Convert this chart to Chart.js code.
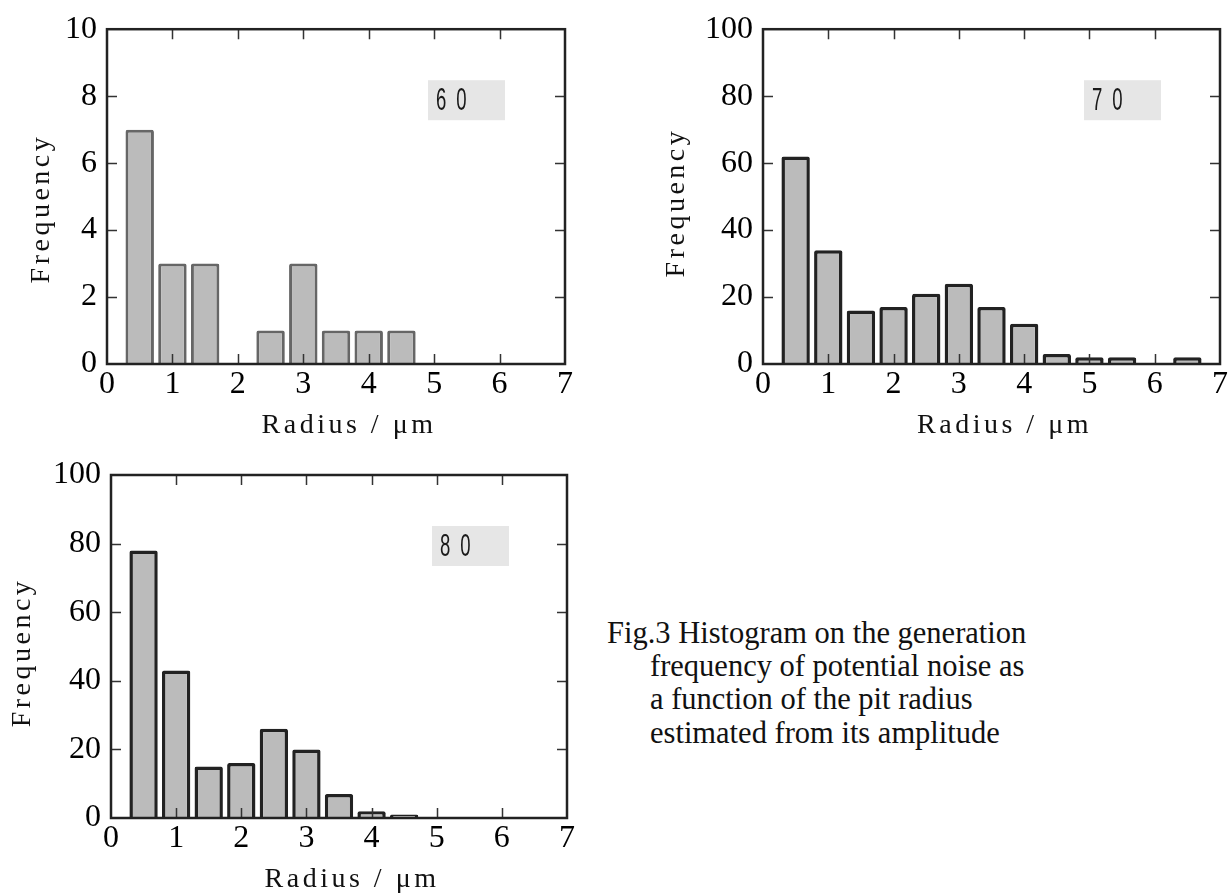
<!DOCTYPE html>
<html><head><meta charset="utf-8">
<script src="https://cdn.jsdelivr.net/npm/chart.js@4.4.1/dist/chart.umd.min.js"></script>
<style>
html,body{margin:0;padding:0;background:#fff;width:1229px;height:895px;overflow:hidden;position:relative;}
canvas{position:absolute;}
.cap{position:absolute;font-family:'Liberation Serif','Times New Roman',serif;font-size:30.5px;line-height:33px;color:#111;white-space:pre;}
</style></head><body>
<canvas id="c60" width="600" height="440" style="left:0;top:0"></canvas>
<canvas id="c70" width="589" height="440" style="left:640px;top:0"></canvas>
<canvas id="c80" width="600" height="455" style="left:0;top:440px"></canvas>
<div class="cap" id="cap0" style="left:607px;top:617px"></div>
<div class="cap" id="cap1" style="left:650px;top:650px"></div>
<div class="cap" id="cap2" style="left:650px;top:683px"></div>
<div class="cap" id="cap3" style="left:650px;top:717px"></div>
<script>
// ---- data ----
const bins60 = [0.5, 1.0, 1.5, 2.5, 3.0, 3.5, 4.0, 4.5];
const freq60 = [7, 3, 3, 1, 3, 1, 1, 1];
const bins70 = [0.5, 1.0, 1.5, 2.0, 2.5, 3.0, 3.5, 4.0, 4.5, 5.0, 5.5, 6.5];
const freq70 = [62, 34, 16, 17, 21, 24, 17, 12, 3, 2, 2, 2];
const bins80 = [0.5, 1.0, 1.5, 2.0, 2.5, 3.0, 3.5, 4.0, 4.5];
const freq80 = [78, 43, 15, 16, 26, 20, 7, 2, 1];
const panelLabels = ['60', '70', '80'];
const xRange = [0, 7];
const xStep = 1;
const yMax60 = 10, yStep60 = 2;
const yMax70 = 100, yStep70 = 20;
const yMax80 = 100, yStep80 = 20;
const xTitle = 'Radius / \u03bcm';
const yTitle = 'Frequency';
const captionLines = [
  'Fig.3 Histogram on the generation',
  'frequency of potential noise as',
  'a function of the pit radius',
  'estimated from its amplitude'
];

captionLines.forEach((t, i) => { document.getElementById('cap' + i).textContent = t; });

const SERIF = "'Liberation Serif', 'Times New Roman', serif";
const TL = 10;

const framePlugin = {
  id: 'frame',
  afterDraw(chart) {
    const o = chart.options.plugins.frame;
    const { ctx, chartArea: a } = chart;
    const x = chart.scales.x, y = chart.scales.y;
    ctx.save();
    // inner tick marks
    ctx.strokeStyle = '#333';
    ctx.lineWidth = 1.5;
    ctx.beginPath();
    x.ticks.forEach(t => {
      if (t.value <= x.min || t.value >= x.max) return;
      const px = Math.round(x.getPixelForValue(t.value)) + 0.5;
      ctx.moveTo(px, a.bottom); ctx.lineTo(px, a.bottom - TL);
      ctx.moveTo(px, a.top); ctx.lineTo(px, a.top + TL);
    });
    y.ticks.forEach(t => {
      if (t.value <= y.min || t.value >= y.max) return;
      const py = Math.round(y.getPixelForValue(t.value)) + 0.5;
      ctx.moveTo(a.left, py); ctx.lineTo(a.left + TL, py);
      ctx.moveTo(a.right, py); ctx.lineTo(a.right - TL, py);
    });
    ctx.stroke();
    // frame
    ctx.strokeStyle = '#222';
    ctx.lineWidth = 2.5;
    ctx.strokeRect(a.left, a.top, a.right - a.left, a.bottom - a.top);
    // label box
    ctx.fillStyle = '#e6e6e6';
    ctx.fillRect(a.left + 321, a.top + 51, 77, 40);
    ctx.save();
    ctx.fillStyle = '#1a1a1a';
    ctx.font = "32px 'Liberation Sans', Arial, sans-serif";
    ctx.textBaseline = 'middle';
    ctx.textAlign = 'left';
    ctx.translate(a.left + 329, a.top + 72);
    ctx.scale(0.58, 1);
    try { ctx.letterSpacing = '17px'; } catch (e) {}
    ctx.fillText(o.label, 0, 0);
    ctx.restore();
    // axis titles
    ctx.fillStyle = '#111';
    ctx.font = "28px " + SERIF;
    try { ctx.letterSpacing = '3.5px'; } catch (e) {}
    ctx.textAlign = 'center';
    ctx.textBaseline = 'alphabetic';
    ctx.fillText(xTitle, (a.left + a.right) / 2 + 13, a.bottom + 69);
    ctx.save();
    ctx.translate(a.left + o.yTitleDx, (a.top + a.bottom) / 2 + o.yTitleDy);
    ctx.rotate(-Math.PI / 2);
    ctx.textBaseline = 'middle';
    ctx.fillText(yTitle, 0, 0);
    ctx.restore();
    ctx.restore();
  }
};

function makeChart(id, bins, freq, yMax, yStep, st) {
  const tickFont = { family: SERIF, size: 32 };
  return new Chart(document.getElementById(id), {
    type: 'bar',
    data: {
      datasets: [{
        data: bins.map((b, i) => ({ x: b, y: freq[i] })),
        backgroundColor: '#bbbbbb',
        borderColor: st.border,
        borderWidth: st.bw,
        borderSkipped: 'start',
        borderRadius: 2,
        categoryPercentage: 1,
        barPercentage: 0.87
      }]
    },
    options: {
      responsive: false,
      animation: false,
      events: [],
      layout: { padding: st.pad },
      plugins: {
        legend: { display: false },
        tooltip: { enabled: false },
        frame: { label: st.label, yTitleDx: st.ydx, yTitleDy: st.ydy }
      },
      scales: {
        x: {
          type: 'linear', min: xRange[0], max: xRange[1], offset: false,
          grid: { display: false, drawTicks: false, offset: false },
          border: { display: false },
          ticks: { stepSize: xStep, padding: 1, font: tickFont, color: '#000', maxRotation: 0, autoSkip: false },
          afterFit(s) { s.height = st.xh; }
        },
        y: {
          type: 'linear', min: 0, max: yMax,
          grid: { display: false, drawTicks: false },
          border: { display: false },
          ticks: { stepSize: yStep, padding: 10, font: tickFont, color: '#000' },
          afterFit(s) { s.width = st.yw; }
        }
      }
    },
    plugins: [framePlugin]
  });
}

makeChart('c60', bins60, freq60, yMax60, yStep60, {
  border: '#666666', bw: 3, pad: { left: 0, top: 22, right: 35, bottom: 0 }, yw: 107, xh: 76,
  label: panelLabels[0], ydx: -65, ydy: 12
});
makeChart('c70', bins70, freq70, yMax70, yStep70, {
  border: '#222222', bw: 3.5, pad: { left: 0, top: 22, right: 8, bottom: 0 }, yw: 123, xh: 76,
  label: panelLabels[1], ydx: -86, ydy: 6
});
makeChart('c80', bins80, freq80, yMax80, yStep80, {
  border: '#222222', bw: 3.5, pad: { left: 0, top: 35, right: 33, bottom: 0 }, yw: 111, xh: 77,
  label: panelLabels[2], ydx: -88, ydy: 6
});
</script>
</body></html>
